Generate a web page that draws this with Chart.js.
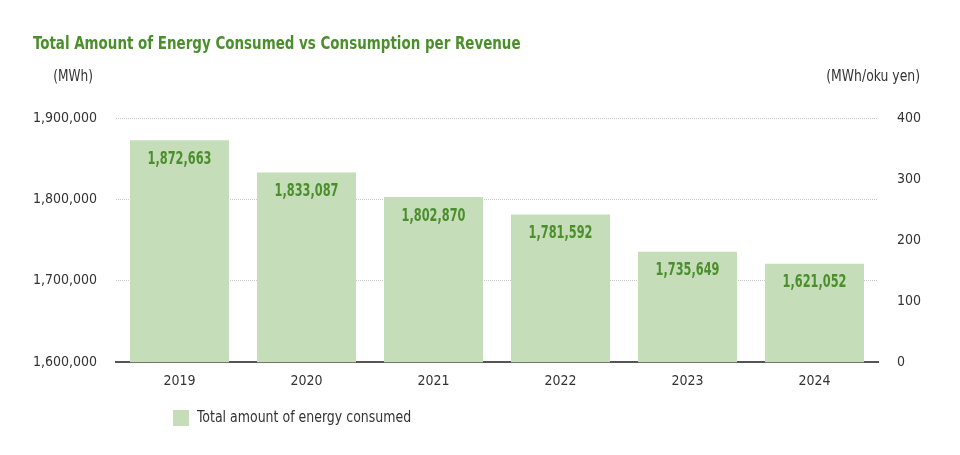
<!DOCTYPE html>
<html>
<head>
<meta charset="utf-8">
<script src="https://cdn.jsdelivr.net/npm/chart.js@4"></script>
<style>
  body { margin: 0; background: #fff; }
  #wrap { width: 960px; height: 455px; position: relative; }
</style>
</head>
<body>
<div id="wrap"><canvas id="energyChart"></canvas></div>
<script>
  // data
  var years = ['2019', '2020', '2021', '2022', '2023', '2024'];
  var energyTotal = [1872663, 1833087, 1802870, 1781592, 1735649, 1721052]; // bar heights
  var energyLabels = ['1,872,663', '1,833,087', '1,802,870', '1,781,592', '1,735,649', '1,621,052'];
  var leftTicks = [1600000, 1700000, 1800000, 1900000];
  var rightTicks = [0, 100, 200, 300, 400];

  var fontNarrow = "'Liberation Sans Narrow', 'DejaVu Sans Condensed', 'Roboto', sans-serif";
  var green = '#4b8e2c';
  var barColor = '#c6ddb9';

  // squeeze text sideways to look like the condensed face of the original
  function narrowText(ctx, text, x, y, sx) {
    ctx.save();
    ctx.translate(x, y);
    ctx.scale(sx, 1);
    ctx.fillText(text, 0, 0);
    ctx.restore();
  }

  // title, units, value labels and legend
  var extras = {
    id: 'extras',
    afterDatasetsDraw: function(chart) {
      var ctx = chart.ctx;
      ctx.save();
      ctx.fillStyle = green;
      ctx.font = 'bold 18px ' + fontNarrow;
      ctx.textAlign = 'center';
      ctx.textBaseline = 'middle';
      chart.getDatasetMeta(0).data.forEach(function(bar, i) {
        narrowText(ctx, energyLabels[i], bar.x, bar.y + 19, 0.7);
      });

      ctx.font = 'bold 18px ' + fontNarrow;
      ctx.textAlign = 'left';
      narrowText(ctx, 'Total Amount of Energy Consumed vs Consumption per Revenue', 33, 44, 0.83);

      ctx.fillStyle = '#333';
      ctx.font = '15px ' + fontNarrow;
      ctx.textAlign = 'right';
      narrowText(ctx, '(MWh)', 93, 77, 0.9);
      narrowText(ctx, '(MWh/oku yen)', 920, 77, 0.92);

      // legend
      ctx.fillStyle = barColor;
      ctx.fillRect(173, 410, 16, 16);
      ctx.fillStyle = '#333';
      ctx.textAlign = 'left';
      narrowText(ctx, chart.data.datasets[0].label, 197, 418, 0.93);
      ctx.restore();
    }
  };

  var energyChart = new Chart(document.getElementById('energyChart'), {
    type: 'bar',
    data: {
      labels: years,
      datasets: [{
        label: 'Total amount of energy consumed',
        data: energyTotal,
        backgroundColor: barColor,
        borderWidth: 0,
        categoryPercentage: 0.78,
        barPercentage: 1,
        yAxisID: 'y'
      }]
    },
    options: {
      responsive: true,
      maintainAspectRatio: false,
      animation: false,
      layout: { padding: { top: 118, bottom: 54, left: 0, right: 0 } },
      plugins: {
        legend: { display: false },
        tooltip: { enabled: false }
      },
      scales: {
        x: {
          grid: { display: false, drawTicks: false },
          border: { color: '#555', width: 2 },
          ticks: { color: '#333', font: { family: fontNarrow, size: 14 }, padding: 11 }
        },
        y: {
          position: 'left',
          min: 1600000,
          max: 1900000,
          afterBuildTicks: function(s) { s.ticks = leftTicks.map(function(v) { return { value: v }; }); },
          afterFit: function(s) { s.width = 116; },
          grid: { color: '#c8c8c8', drawTicks: false, lineWidth: function(c) { return c.tick.value === 1600000 ? 0 : 1; } },
          border: { display: false, dash: [1, 1] },
          ticks: {
            color: '#333',
            font: { family: fontNarrow, size: 14 },
            padding: 19,
            callback: function(v) { return v.toLocaleString('en-US'); }
          }
        },
        y1: {
          position: 'right',
          min: 0,
          max: 400,
          afterBuildTicks: function(s) { s.ticks = rightTicks.map(function(v) { return { value: v }; }); },
          afterFit: function(s) { s.width = 82; },
          grid: { display: false, drawTicks: false },
          border: { display: false },
          ticks: { color: '#333', font: { family: fontNarrow, size: 14 }, padding: 19 }
        }
      }
    },
    plugins: [extras]
  });
</script>
</body>
</html>
